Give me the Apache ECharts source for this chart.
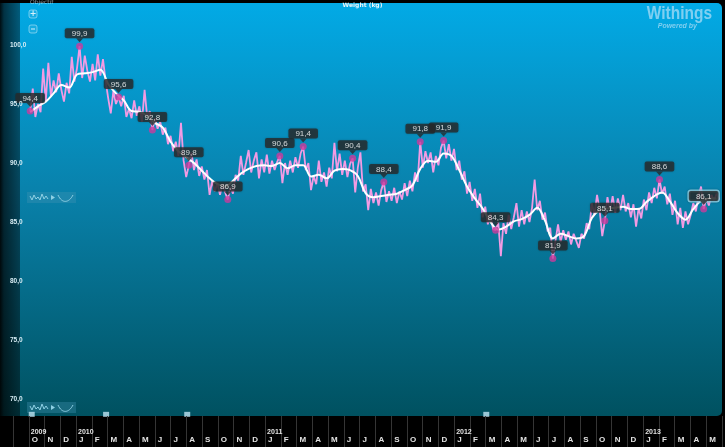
<!DOCTYPE html>
<html>
<head>
<meta charset="utf-8">
<title>Weight (kg)</title>
<script src="https://cdn.jsdelivr.net/npm/echarts@6/dist/echarts.min.js"></script>
<style>
  html, body { margin: 0; padding: 0; background: #000; }
  #chart { width: 725px; height: 447px; }
</style>
</head>
<body>
<div id="chart"></div>
<script>
const DAY = 86400000;

// raw weigh-ins, one every 5 days starting 2009-10-04
const rawStart = new Date(2009, 9, 4).getTime();
const rawStepDays = 5;
const rawWeights = [
  94.4, 96.3, 93.9, 95.0, 94.3, 98.0, 95.2, 98.5, 95.6, 97.0,
  96.0, 97.6, 96.2, 95.2, 96.8, 95.9, 99.0, 96.9, 98.0, 99.9,
  97.2, 99.1, 97.8, 96.9, 98.4, 97.0, 99.2, 97.4, 98.8, 97.0,
  95.5, 94.2, 96.1, 95.0, 95.6, 94.8, 95.7, 93.9, 94.6, 93.8,
  95.3, 94.0, 94.8, 93.5, 96.2, 93.9, 94.4, 92.8, 93.8, 92.9,
  93.5, 92.4, 93.0, 91.6, 92.3, 91.0, 91.8, 90.6, 93.4, 90.2,
  88.8, 89.8, 90.9, 89.4, 90.3, 88.9, 89.7, 88.6, 89.4, 87.3,
  88.5, 87.6, 88.3, 87.3, 88.2, 87.5, 86.9, 88.0, 87.4, 89.0,
  88.5, 90.6, 89.0, 90.0, 91.1, 89.2, 90.2, 90.9, 88.7, 90.3,
  89.2, 90.7, 89.1, 90.2, 89.4, 90.1, 90.6, 88.3, 90.0, 89.0,
  90.2, 89.2, 90.5, 89.6, 90.8, 91.4, 89.4, 90.0, 87.7, 88.9,
  88.2, 90.2, 88.4, 89.2, 88.0, 89.6, 88.7, 91.7, 89.3, 90.8,
  89.0, 90.2, 88.8, 89.9, 90.4, 87.5, 89.6, 90.9, 87.6, 88.2,
  86.0, 87.8, 86.6, 87.5, 86.4, 87.7, 88.4, 86.7, 87.6, 86.8,
  87.9, 86.6, 87.6, 86.9, 88.3, 87.2, 88.5, 87.6, 89.2, 88.4,
  91.8, 89.6, 91.0, 90.0, 90.9, 89.2, 90.6, 89.8, 91.3, 91.9,
  90.4, 91.6, 90.2, 91.2, 89.4, 90.2, 88.6, 89.3, 87.4, 88.4,
  86.8, 87.8, 86.2, 87.4, 85.4, 86.3, 84.8, 85.7, 84.4, 84.3,
  85.0, 82.1, 84.9, 84.0, 85.6, 84.4, 85.4, 86.6, 84.6, 86.0,
  84.8, 85.9, 85.0, 86.2, 88.6, 86.0, 86.8, 85.2, 85.8, 84.2,
  84.5, 81.9, 83.4, 84.8, 83.3, 84.3, 83.5, 84.2, 83.1, 84.0,
  83.4, 82.8, 84.0, 83.6, 84.9, 84.4, 86.6, 85.6, 87.3, 86.0,
  83.8, 85.1, 87.1, 85.9, 87.2, 85.8, 87.0, 86.0, 87.3, 85.9,
  86.6, 85.4, 86.5, 84.6, 86.2, 85.3, 86.9, 86.0, 87.5, 86.6,
  87.9, 87.0, 88.6, 87.4, 88.0, 86.5, 87.4, 85.6, 86.8, 84.8,
  86.2, 84.5, 85.9, 84.8, 85.6, 86.6, 85.9, 87.2, 88.0, 86.1,
  87.0, 86.4, 87.3, 86.8, 87.4, 86.9
];

// smoothed trend, one every 15 days from the same start
const trendStepDays = 15;
const trendWeights = [
  94.3, 94.8, 95.2, 95.9, 96.6, 96.4, 97.5, 97.6, 97.7, 97.9,
  96.7, 95.9, 95.3, 94.4, 94.35, 94.0, 93.4, 93.0, 91.8, 91.0,
  90.5, 90.0, 89.35, 88.7, 88.2, 88.0, 88.5, 89.1, 89.5, 89.75,
  89.8, 89.75, 90.0, 89.55, 89.8, 89.8, 88.85, 89.0, 88.7, 89.35,
  89.5, 89.4, 88.9, 87.45, 87.1, 87.2, 87.3, 87.4, 87.7, 88.1,
  89.5, 90.2, 90.1, 90.8, 90.6, 89.4, 88.0, 87.0, 86.15, 85.0,
  84.35, 84.6, 85.05, 85.25, 85.6, 86.2, 85.1, 83.6, 84.0, 83.8,
  83.6, 83.8, 85.35, 86.0, 86.15, 86.2, 86.3, 86.1, 86.1, 86.7,
  87.2, 87.5, 86.75, 85.75, 85.2, 86.1, 86.8, 87.0, 87.0
];

// labelled highs and lows
const extremeDates = [
  '2009-10-04', '2010-01-07', '2010-03-23', '2010-05-27', '2010-08-05', '2010-10-19',
  '2011-01-27', '2011-03-13', '2011-06-16', '2011-08-15', '2011-10-24', '2011-12-08',
  '2012-03-17', '2012-07-05', '2012-10-13', '2013-01-26', '2013-04-21'
];
const extremeWeights = [
  94.4, 99.9, 95.6, 92.8, 89.8, 86.9,
  90.6, 91.4, 90.4, 88.4, 91.8, 91.9,
  84.3, 81.9, 85.1, 88.6, 86.1
];

// small event markers on the bottom edge
const eventDates = ['2009-10-07', '2010-02-27', '2010-08-02', '2012-02-28'];
const eventLevel = 68.7;

// month boundaries from Sep 2009 to Jun 2013
const monthTicks = [
  '', 'O', 'N', 'D',
  'J', 'F', 'M', 'A', 'M', 'J', 'J', 'A', 'S', 'O', 'N', 'D',
  'J', 'F', 'M', 'A', 'M', 'J', 'J', 'A', 'S', 'O', 'N', 'D',
  'J', 'F', 'M', 'A', 'M', 'J', 'J', 'A', 'S', 'O', 'N', 'D',
  'J', 'F', 'M', 'A', 'M', ''
];
const yearTicks = [
  '', '2009', '', '',
  '2010', '', '', '', '', '', '', '', '', '', '', '',
  '2011', '', '', '', '', '', '', '', '', '', '', '',
  '2012', '', '', '', '', '', '', '', '', '', '', '',
  '2013', '', '', '', '', ''
];

const xMin = new Date(2009, 8, 1).getTime();
const xMax = new Date(2013, 5, 1).getTime();

const rawData = rawWeights.map((w, i) => [rawStart + i * rawStepDays * DAY, w]);
const trendData = trendWeights.map((w, i) => [rawStart + i * trendStepDays * DAY, w]);
const extremeData = extremeDates.map((d, i) => {
  const item = { value: [d, extremeWeights[i]] };
  if (i === extremeDates.length - 1) {
    item.label = { borderColor: '#9fe1f6', borderWidth: 1.5 };
  }
  return item;
});
const eventData = eventDates.map(d => [d, eventLevel]);

const fmt = v => v.toFixed(1).replace('.', ',');

const chart = echarts.init(document.getElementById('chart'));

const sparkIcon = (y) => ([
  {
    type: 'rect', silent: true,
    shape: { x: 27, y: y, width: 49, height: 11 },
    style: { fill: 'rgba(70,150,180,0.35)' }
  },
  {
    type: 'polyline', silent: true,
    shape: { points: [[30, y + 4], [32, y + 8], [34, y + 3], [36, y + 7], [38, y + 5], [40, y + 8], [42, y + 2], [44, y + 7], [46, y + 4], [48, y + 7]] },
    style: { stroke: '#8fd0e4', lineWidth: 1, fill: null }
  },
  {
    type: 'polygon', silent: true,
    shape: { points: [[51, y + 3], [55, y + 5.5], [51, y + 8]] },
    style: { fill: '#8fd0e4' }
  },
  {
    type: 'bezierCurve', silent: true,
    shape: { x1: 58, y1: y + 3, x2: 73, y2: y + 3, cpx1: 62, cpy1: y + 12, cpx2: 69, cpy2: y + 11 },
    style: { stroke: '#8fd0e4', lineWidth: 1, fill: null }
  }
]);

chart.setOption({
  backgroundColor: '#000',
  animation: false,
  graphic: [
    {
      type: 'rect', silent: true, z: -10,
      shape: { x: 0, y: 3, width: 722, height: 413, r: [0, 5, 5, 0] },
      style: {
        fill: new echarts.graphic.LinearGradient(0, 0, 0, 1, [
          { offset: 0, color: '#02aae6' },
          { offset: 0.45, color: '#0982ac' },
          { offset: 1, color: '#005160' }
        ])
      }
    },
    {
      type: 'rect', silent: true, z: -9,
      shape: { x: 0, y: 3, width: 20, height: 413 },
      style: {
        fill: new echarts.graphic.LinearGradient(0, 0, 1, 0, [
          { offset: 0, color: 'rgba(0,0,0,0.92)' },
          { offset: 0.2, color: 'rgba(0,0,0,0.7)' },
          { offset: 1, color: 'rgba(0,0,0,0.45)' }
        ])
      }
    },
    {
      type: 'text', silent: true, left: 'center', top: 2,
      style: { text: 'Weight (kg)', fill: '#e8f6fc', font: 'bold 6px "DejaVu Sans"' }
    },
    {
      type: 'text', silent: true, x: 30, y: -1,
      style: { text: 'Objectif', fill: 'rgba(220,240,250,0.6)', font: '6px "DejaVu Sans"' }
    },
    {
      type: 'rect', silent: true,
      shape: { x: 29, y: 10, width: 8, height: 8, r: 2 },
      style: { fill: 'rgba(255,255,255,0.08)', stroke: 'rgba(200,235,250,0.55)', lineWidth: 1 }
    },
    {
      type: 'text', silent: true, x: 33, y: 14,
      style: { text: '+', fill: '#d8f0fa', font: 'bold 8px "DejaVu Sans"', align: 'center', verticalAlign: 'middle' }
    },
    {
      type: 'rect', silent: true,
      shape: { x: 29, y: 25, width: 8, height: 8, r: 2 },
      style: { fill: 'rgba(255,255,255,0.08)', stroke: 'rgba(200,235,250,0.55)', lineWidth: 1 }
    },
    {
      type: 'line', silent: true,
      shape: { x1: 31, y1: 29, x2: 35, y2: 29 },
      style: { stroke: '#d8f0fa', lineWidth: 1 }
    },
    {
      type: 'text', silent: true, x: 712, y: 5, scaleX: 0.86,
      style: {
        text: 'Withings', fill: 'rgba(170,220,245,0.75)', align: 'right',
        font: 'bold 18px "Liberation Sans"'
      }
    },
    {
      type: 'text', silent: true, x: 697, y: 23,
      style: {
        text: 'Powered by', fill: 'rgba(170,220,245,0.75)', align: 'right',
        font: 'italic bold 7px "Liberation Sans"'
      }
    },
    ...sparkIcon(192),
    ...sparkIcon(402)
  ],
  grid: [
    { left: 13, width: 713, top: 45, height: 354 },
    { left: 13, width: 713, top: 416, height: 31 }
  ],
  xAxis: [
    {
      type: 'time', gridIndex: 0, min: xMin, max: xMax,
      axisLine: { show: false }, axisTick: { show: false },
      axisLabel: { show: false }, splitLine: { show: false }
    },
    {
      type: 'category', gridIndex: 1, data: monthTicks, boundaryGap: false, z: 10,
      axisLine: { show: false }, axisTick: { show: false },
      splitLine: { show: true, interval: 0, lineStyle: { color: '#353535', width: 1 } },
      axisLabel: {
        inside: true, margin: 3, interval: 0, align: 'left', padding: [0, 0, 0, 3],
        color: '#e2e2e2', fontSize: 8, fontWeight: 'bold', fontFamily: 'Liberation Sans'
      }
    },
    {
      type: 'category', gridIndex: 1, data: yearTicks, boundaryGap: false, z: 10,
      axisLine: { show: false }, axisTick: { show: false }, splitLine: { show: false },
      axisLabel: {
        inside: true, margin: 13, interval: 0, align: 'left', padding: [0, 0, 0, 2],
        color: '#e2e2e2', fontSize: 7, fontWeight: 'bold', fontFamily: 'Liberation Sans'
      }
    }
  ],
  yAxis: [
    {
      type: 'value', gridIndex: 0, min: 70, max: 100, interval: 5, z: 10,
      axisLine: { show: false }, axisTick: { show: false }, splitLine: { show: false },
      axisLabel: {
        margin: 3, align: 'left', formatter: fmt,
        color: '#d6ecf4', fontSize: 6.5, fontWeight: 'bold', fontFamily: 'Liberation Sans'
      }
    },
    {
      type: 'value', gridIndex: 0, min: 70, max: 100, interval: 5, offset: 6, z: 10,
      axisLine: { show: false }, splitLine: { show: false }, axisLabel: { show: false },
      axisTick: { show: true, length: 3, lineStyle: { color: '#b8d4de' } }
    },
    {
      type: 'value', gridIndex: 1, show: false
    }
  ],
  series: [
    {
      type: 'line', data: rawData, showSymbol: false,
      lineStyle: { color: '#f29be3', width: 1.8 }
    },
    {
      type: 'line', data: trendData, showSymbol: false, smooth: 0.35,
      lineStyle: { color: '#ffffff', width: 2 }
    },
    {
      type: 'scatter', data: eventData, clip: false, symbol: 'rect', symbolSize: [6, 5],
      itemStyle: { color: '#bfe3f2' }, silent: true
    },
    {
      type: 'scatter', data: extremeData, clip: false, symbolSize: 7,
      itemStyle: { color: '#cc3a9c' }, z: 5,
      label: {
        show: true, position: 'top', distance: 4.5,
        formatter: p => fmt(p.value[1]),
        color: '#ffffff', fontSize: 8, fontFamily: 'Liberation Sans', lineHeight: 9,
        backgroundColor: '#282a2c', borderRadius: 2, padding: [1, 7, 0, 7],
        shadowColor: 'rgba(0,0,0,0.35)', shadowBlur: 2
      }
    },
    {
      type: 'scatter', data: extremeData.map(d => d.value), clip: false,
      symbol: 'triangle', symbolRotate: 180, symbolSize: [7, 4], symbolOffset: [0, -6],
      itemStyle: { color: '#282a2c' }, z: 6, silent: true
    }
  ]
});
</script>
</body>
</html>
